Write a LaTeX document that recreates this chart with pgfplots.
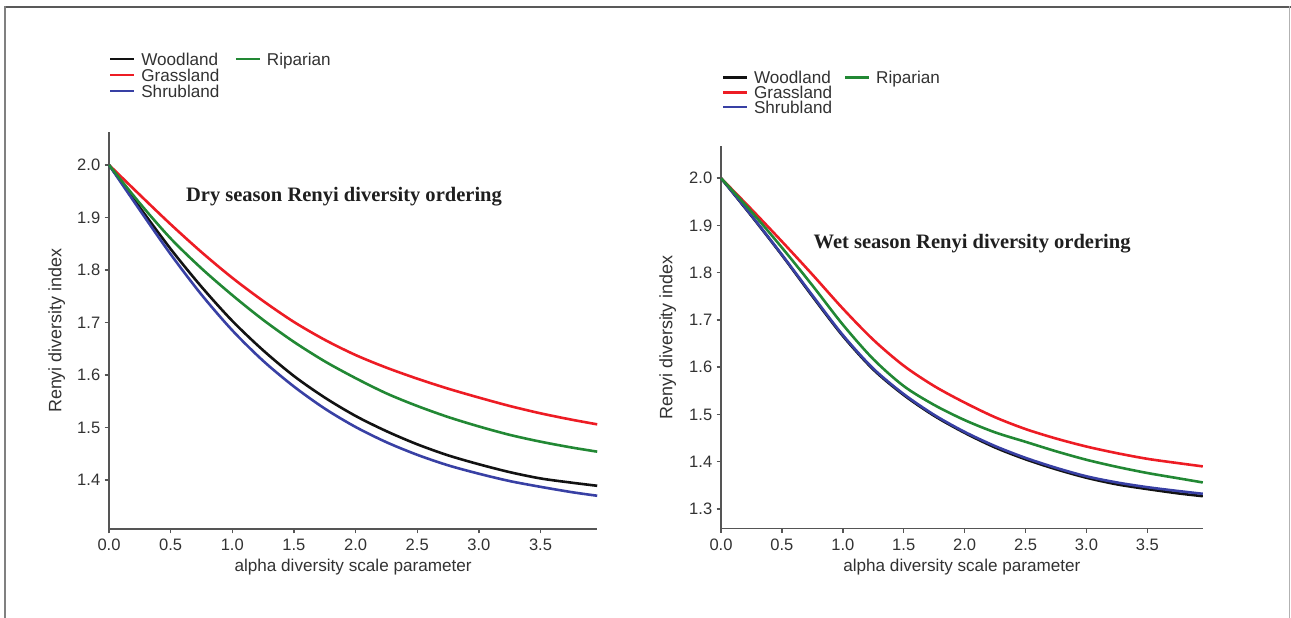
\documentclass[border=0pt]{standalone}
\usepackage{fontspec}
\setmainfont{Liberation Sans}
\newfontfamily\titlefont{Liberation Serif}
\usepackage{pgfplots}
\pgfplotsset{compat=1.18}
\definecolor{cRed}{RGB}{237,28,36}
\definecolor{cGreen}{RGB}{34,136,52}
\definecolor{cBlue}{RGB}{56,64,164}
\definecolor{cBlack}{RGB}{18,18,18}
\definecolor{axisgray}{RGB}{85,85,85}
\definecolor{textgray}{RGB}{50,50,50}

\pgfplotstableread{
a     red    green  black  blue
0.00  2.000  2.000  2.000  2.000
0.25  1.943  1.927  1.919  1.914
0.50  1.887  1.860  1.840  1.830
0.75  1.834  1.803  1.768  1.753
1.00  1.785  1.752  1.703  1.685
1.25  1.741  1.705  1.647  1.627
1.50  1.701  1.663  1.598  1.578
1.75  1.667  1.626  1.557  1.536
2.00  1.638  1.594  1.522  1.501
2.25  1.614  1.565  1.493  1.472
2.50  1.593  1.541  1.468  1.448
2.75  1.574  1.520  1.447  1.428
3.00  1.557  1.502  1.430  1.412
3.25  1.541  1.486  1.415  1.398
3.50  1.527  1.473  1.403  1.387
3.75  1.515  1.462  1.395  1.377
3.96  1.506  1.454  1.389  1.370
}\drytable

\pgfplotstableread{
a     red    green  black  blue
0.00  2.000  2.000  2.000  2.000
0.25  1.934  1.929  1.920  1.921
0.50  1.866  1.853  1.837  1.838
0.75  1.796  1.773  1.750  1.752
1.00  1.724  1.690  1.666  1.668
1.25  1.658  1.617  1.595  1.597
1.50  1.603  1.560  1.541  1.543
1.75  1.560  1.520  1.497  1.499
2.00  1.525  1.488  1.461  1.463
2.25  1.494  1.462  1.430  1.433
2.50  1.469  1.442  1.405  1.408
2.75  1.449  1.422  1.384  1.387
3.00  1.432  1.404  1.366  1.369
3.25  1.418  1.389  1.352  1.356
3.50  1.406  1.376  1.342  1.346
3.75  1.397  1.365  1.333  1.338
3.955 1.390  1.356  1.327  1.332
}\wettable

\pgfplotsset{
  renyi/.style={
    scale only axis,
    axis lines=left,
    axis line style={-, draw=axisgray, line width=0.8bp},
    tick align=outside,
    major tick length=2.2bp,
    tick style={draw=axisgray, line width=0.7bp},
    xmin=0,
    xtick={0,0.5,1,1.5,2,2.5,3,3.5},
    xticklabels={0.0,0.5,1.0,1.5,2.0,2.5,3.0,3.5},
    /pgf/number format/assume math mode=true,
    yticklabel style={/pgf/number format/fixed, /pgf/number format/fixed zerofill, /pgf/number format/precision=1,
      font=\fontsize{8.3}{9}\selectfont, text=textgray, inner sep=0pt, anchor=east, xshift=-2bp},
    xticklabel style={font=\fontsize{8.3}{9}\selectfont, text=textgray, inner sep=0pt, anchor=north,
      text height=5.9bp, text depth=0pt, yshift=-2.6bp},
    xlabel={alpha diversity scale parameter},
    ylabel={Renyi diversity index},
    xlabel style={font=\fontsize{8.6}{9}\selectfont, text=textgray, inner sep=0pt, anchor=base},
    ylabel style={font=\fontsize{9.0}{9}\selectfont, text=textgray, inner sep=0pt, anchor=base},
    legend cell align=left,
    legend columns=2,
    legend image code/.code={\draw[#1, line width=1.3bp] (0bp,0bp) -- (12bp,0bp); \path (14.85bp,0bp);},
    every axis plot/.append style={line width=1.3bp, smooth, forget plot},
    clip=false,
  }
}

\begin{document}
\begin{tikzpicture}
\path[use as bounding box] (0,0) rectangle (645.5bp,309bp);

\begin{axis}[renyi,
  at={(54.5bp,44.5bp)}, anchor=south west,
  width=244.1bp, height=198.3bp,
  xmax=3.96, ymin=1.3067, ymax=2.062,
  ytick={1.4,1.5,1.6,1.7,1.8,1.9,2.0},
  xlabel style={at={(axis description cs:0.5,-0.1083)}},
  ylabel style={at={(axis description cs:-0.0975,0.5)}},
  legend style={draw=none, fill=none, at={(axis description cs:0,1.2008)}, anchor=north west,
    font=\fontsize{8.6}{9}\selectfont, text=textgray, inner sep=0pt, outer sep=0pt,
    row sep=1.6bp, column sep=0pt,
    nodes={inner sep=0pt, text height=6.2bp, text depth=0.2bp},
    /tikz/every even column/.append style={column sep=7.6bp}},
]
\addplot[cBlack] table[x=a, y=black] {\drytable};
\addplot[cRed] table[x=a, y=red] {\drytable};
\addplot[cBlue] table[x=a, y=blue] {\drytable};
\addplot[cGreen] table[x=a, y=green] {\drytable};
\addlegendimage{cBlack}\addlegendentry{Woodland}
\addlegendimage{cGreen}\addlegendentry{Riparian}
\addlegendimage{cRed}\addlegendentry{Grassland}
\addlegendimage{empty legend}\addlegendentry{}
\addlegendimage{cBlue}\addlegendentry{Shrubland}
\node[anchor=base, inner sep=0pt, font=\titlefont\bfseries\fontsize{10.3}{11}\selectfont, text=black!88]
  at (axis cs:1.906,1.930) {Dry season Renyi diversity ordering};
\end{axis}

\begin{axis}[renyi,
  at={(360.5bp,44.85bp)}, anchor=south west,
  width=240.9bp, height=190.9bp,
  xmax=3.955, ymin=1.259, ymax=2.067,
  ytick={1.3,1.4,1.5,1.6,1.7,1.8,1.9,2.0},
  xlabel style={at={(axis description cs:0.5,-0.1144)}},
  ylabel style={at={(axis description cs:-0.101,0.5)}},
  legend style={draw=none, fill=none, at={(axis description cs:0.0015,1.1973)}, anchor=north west,
    font=\fontsize{8.6}{9}\selectfont, text=textgray, inner sep=0pt, outer sep=0pt,
    row sep=1.0bp, column sep=0pt,
    nodes={inner sep=0pt, text height=6.2bp, text depth=0.2bp},
    /tikz/every even column/.append style={column sep=5.85bp}},
]
\addplot[cBlack] table[x=a, y=black] {\wettable};
\addplot[cRed] table[x=a, y=red] {\wettable};
\addplot[cBlue] table[x=a, y=blue] {\wettable};
\addplot[cGreen] table[x=a, y=green] {\wettable};
\addlegendimage{cBlack}\addlegendentry{Woodland}
\addlegendimage{cGreen}\addlegendentry{Riparian}
\addlegendimage{cRed}\addlegendentry{Grassland}
\addlegendimage{empty legend}\addlegendentry{}
\addlegendimage{cBlue}\addlegendentry{Shrubland}
\node[anchor=base, inner sep=0pt, font=\titlefont\bfseries\fontsize{10.3}{11}\selectfont, text=black!88]
  at (axis cs:2.061,1.851) {Wet season Renyi diversity ordering};
\end{axis}

\draw[draw=black!65, line width=1bp] (2.5bp,305.35bp) -- (645.5bp,305.35bp);
\draw[draw=black!50, line width=0.7bp] (2.5bp,0bp) -- (2.5bp,305.85bp);
\draw[draw=black!30, line width=0.7bp] (644.7bp,0bp) -- (644.7bp,305.85bp);
\end{tikzpicture}
\end{document}
